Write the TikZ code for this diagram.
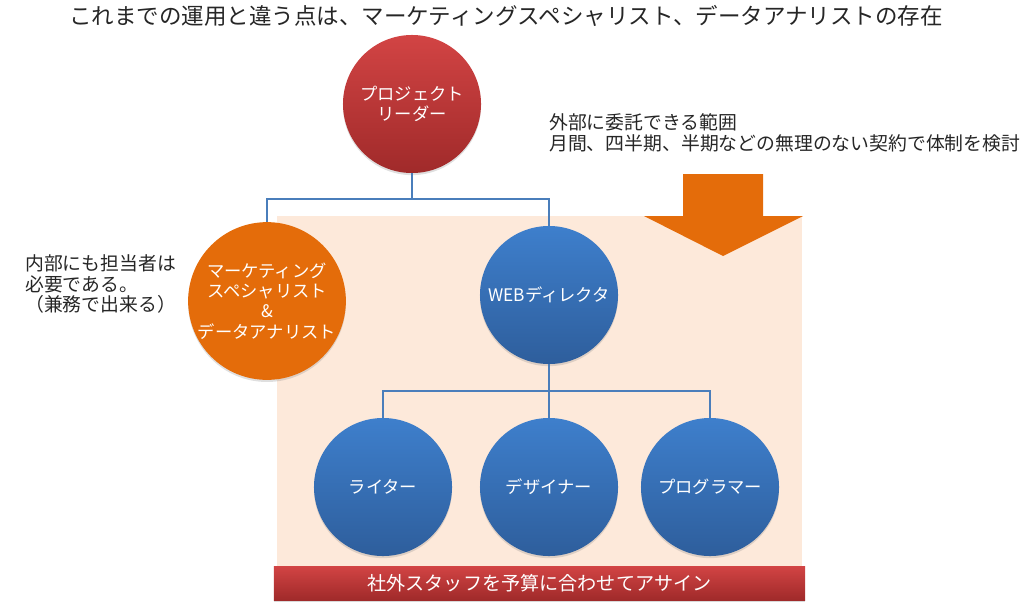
\documentclass[tikz,border=0pt]{standalone}
\usepackage{fontspec}
\setmainfont{Noto Sans CJK JP}
\usetikzlibrary{shadows}
\definecolor{redtop}{HTML}{D24444}
\definecolor{redbot}{HTML}{A02A2A}
\definecolor{orangefill}{HTML}{E46C0A}
\definecolor{bluetop}{HTML}{3E7FCC}
\definecolor{bluebot}{HTML}{2E5E9C}
\definecolor{peach}{HTML}{FDE9DA}
\definecolor{connblue}{HTML}{4A7EBB}
\tikzset{
  role/.style={circle, inner sep=0pt, minimum size=3.45cm, text=white, align=center,
    font=\fontsize{12.3}{14.4}\selectfont,
    drop shadow={opacity=0.25, shadow xshift=0pt, shadow yshift=-1.5pt}},
  leadcircle/.style={role, top color=redtop, bottom color=redbot},
  staffcircle/.style={role, top color=bluetop, bottom color=bluebot},
  conn/.style={draw=connblue, line width=1.3pt},
  note/.style={align=left, inner sep=0pt, text=black!85}
}
\begin{document}
\begin{tikzpicture}[x=0.025cm, y=-0.025cm]
			%%%%% START %%%%%
			\useasboundingbox (0, 0) rectangle (1024, 613);
			
			\node[text=black!85, font=\fontsize{16}{18}\selectfont] (title) at (506, 16) {これまでの運用と違う点は、マーケティングスペシャリスト、データアナリストの存在};
			
			\fill[peach] (277, 216) rectangle (802, 590);
			\fill[orangefill] (683, 174) -- (763, 174) -- (763, 216) -- (803, 216) -- (723, 256) -- (644, 216) -- (683, 216) -- cycle;
			
			\node[note, anchor=west, font=\fontsize{13.4}{15}\selectfont] (outside) at (549, 133) {外部に委託できる範囲\\月間、四半期、半期などの無理のない契約で体制を検討};
			\node[note, anchor=west, font=\fontsize{13.4}{14.6}\selectfont] (inside) at (25, 284) {内部にも担当者は\\必要である。\\（兼務で出来る）};
			
			\node[leadcircle] (leader) at (412, 104) {プロジェクト\\リーダー};
			\node[role, fill=orangefill, minimum size=3.8cm] (analyst) at (267, 301) {マーケティング\\スペシャリスト\\\&\\データアナリスト};
			\node[staffcircle] (director) at (549, 295) {WEBディレクタ};
			
			\node[staffcircle] (writer) at (383, 487) {ライター};
			\node[staffcircle] (designer) at (549, 487) {デザイナー};
			\node[staffcircle] (programmer) at (710, 487) {プログラマー};
			
			\coordinate (topjoin) at (412, 199);
			\coordinate (staffjoin) at (549, 391);
			\draw[conn] (leader.south) -- (topjoin) -| (analyst.north);
			\draw[conn] (topjoin) -| (director.north);
			\draw[conn] (director.south) -- (staffjoin);
			\draw[conn] (staffjoin) -| (writer.north);
			\draw[conn] (staffjoin) -- (designer.north);
			\draw[conn] (staffjoin) -| (programmer.north);
			
			\node[minimum width=13.275cm, minimum height=0.85cm, inner sep=0pt, top color=redtop, bottom color=redbot, text=white,
			  font=\fontsize{13.6}{15}\selectfont, drop shadow={opacity=0.3, shadow xshift=0pt, shadow yshift=-1.5pt}] (assign) at (539.5, 583) {社外スタッフを予算に合わせてアサイン};
			
			%%%%% END %%%%%
		\end{tikzpicture}
\end{document}
